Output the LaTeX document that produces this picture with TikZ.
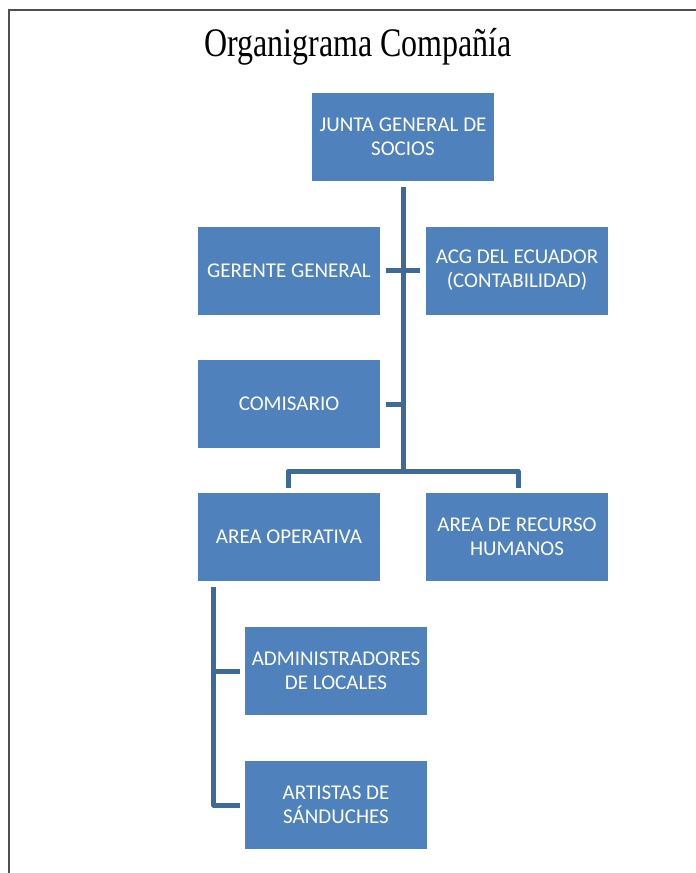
\documentclass[tikz,border=0pt]{standalone}
\usepackage{fontspec}
\usepackage{graphicx}
\setmainfont{Liberation Serif}
\newfontfamily\boxfont{Carlito}
\usetikzlibrary{calc}
\definecolor{boxblue}{HTML}{4F81BD}
\definecolor{linkblue}{HTML}{3F6A98}
\definecolor{framegray}{HTML}{505050}
\tikzset{
  unit/.style={draw=none, fill=boxblue, text=white, minimum width=182pt, minimum height=88pt,
    inner sep=0pt, align=center, font=\boxfont\fontsize{21pt}{24pt}\selectfont},
  link/.style={draw=linkblue, line width=5pt, line join=round},
}
\begin{document}
\begin{tikzpicture}[x=1pt, y=-1pt]
\useasboundingbox (0,0) rectangle (696,873);
% page frame (only top and left edges fall inside the page)
\draw[framegray, line width=2pt] (9,880) -- (9,10) -- (700,10);

% title
\node[anchor=base, inner sep=0pt] (title) at (358,56.5)
  {\scalebox{0.79}[1]{\fontsize{40.5pt}{46pt}\selectfont Organigrama Compañía}};

% units
\node[unit] (junta) at (403,137) {JUNTA GENERAL DE\\SOCIOS};
\node[unit] (gerente) at (289,270.5) {GERENTE GENERAL};
\node[unit] (acg) at (517,270.5) {ACG DEL ECUADOR\\(CONTABILIDAD)};
\node[unit] (comisario) at (289,404) {COMISARIO};
\node[unit] (operativa) at (289,537) {AREA OPERATIVA};
\node[unit] (rrhh) at (517,537) {AREA DE RECURSO\\HUMANOS};
\node[unit] (admin) at (336,671) {ADMINISTRADORES\\DE LOCALES};
\node[unit] (artistas) at (336,805) {ARTISTAS DE\\SÁNDUCHES};

% main trunk and branches
\coordinate (split) at ($(junta.south)+(0,290)$);
\draw[link] ($(junta.south)+(0,6)$) -- (split);
\draw[link] ($(gerente.east)+(6,0)$) -- ($(acg.west)+(-6,0)$);
\draw[link] ($(comisario.east)+(6,0)$) -- (comisario.east -| split);
\draw[link] ($(operativa.north)+(-1,-5)$) |- (split) -| ($(rrhh.north)+(1,-5)$);

% area operativa sub-units
\coordinate (sub) at ($(operativa.south west)+(16,6)$);
\draw[link] (sub) |- ($(artistas.west)+(-5,0)$);
\draw[link] (sub |- admin.west) -- ($(admin.west)+(-5,0)$);
\end{tikzpicture}
\end{document}
